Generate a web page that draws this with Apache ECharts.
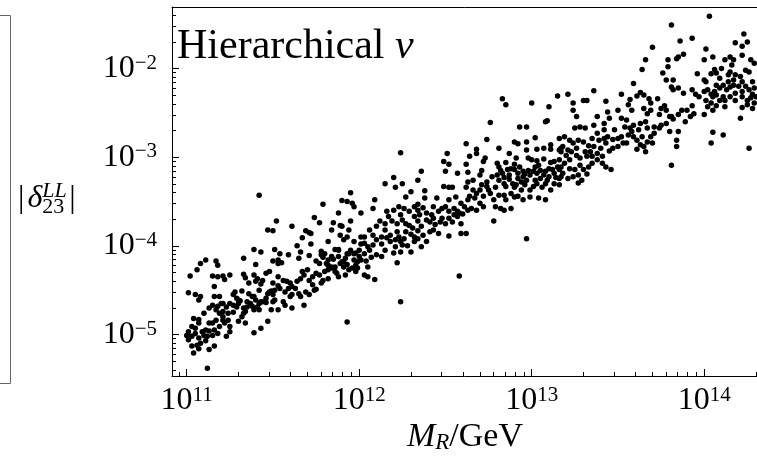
<!DOCTYPE html>
<html>
<head>
<meta charset="utf-8">
<script src="https://cdn.jsdelivr.net/npm/echarts@6/dist/echarts.min.js"></script>
<style>html,body{margin:0;padding:0;background:#fff}#chart{width:757px;height:456px}</style>
</head>
<body>
<div id="chart"></div>
<script>
// Axis tick exponents (labels are 10^n)
const xTickExps = [11, 12, 13, 14];
const yTickExps = [-5, -4, -3, -2];

// Data points: [log10(M_R / GeV), log10(|delta_23^LL|)]
const ptsMR1e11 = [
[11.42,-3.43],[11.95,-3.40],[11.90,-3.49],[11.93,-3.50],[11.96,-3.52],[11.97,-3.56],[11.79,-3.53],[11.88,-3.63],[12.01,-3.63],[11.74,-3.68],[11.77,-3.74],[11.52,-3.72],[11.47,-3.82],[11.50,-3.83],[11.61,-3.78],[11.85,-3.74],[11.89,-3.77],[11.90,-3.78],[11.95,-3.72],[11.84,-3.82],[11.89,-3.88],[11.94,-3.82],[11.69,-3.83],[11.71,-3.85],[11.67,-3.91],[11.72,-3.86],[11.91,-3.93],[11.93,-3.90],[11.97,-3.95],[12.01,-3.90],[12.03,-3.90],[11.64,-4.00],[11.66,-4.07],[11.72,-3.98],[11.82,-3.95],[11.86,-4.04],[11.88,-4.04],[12.01,-3.98],[12.03,-3.97],[12.00,-4.05],[11.39,-4.04],[11.43,-4.07],[11.51,-4.04],[11.54,-4.09],[11.59,-4.10],[11.78,-4.06],[11.78,-4.10],[11.79,-4.13],[11.84,-4.12],[11.85,-4.15],[11.93,-4.09],[11.94,-4.09],[11.97,-4.09],[11.98,-4.08],[11.88,-4.12],[11.90,-4.18],[11.91,-4.18],[11.71,-4.11],[11.65,-4.14],[11.75,-4.17],[11.77,-4.20],[11.11,-4.16],[11.08,-4.20],[11.17,-4.17],[11.18,-4.22],[11.33,-4.14],[11.40,-4.21],[11.50,-4.17],[11.53,-4.20],[11.55,-4.19],[11.53,-4.16],[11.81,-4.20],[11.82,-4.22],[11.84,-4.24],[11.86,-4.24],[11.84,-4.25],[11.89,-4.20],[11.91,-4.24],[11.93,-4.21],[11.97,-4.16],[11.98,-4.22],[11.99,-4.18],[12.01,-4.16],[12.04,-4.17],[11.96,-4.25],[11.99,-4.25],
[11.02,-4.34],[11.06,-4.27],[11.15,-4.34],[11.18,-4.35],[11.21,-4.34],[11.22,-4.38],[11.25,-4.33],[11.33,-4.32],[11.34,-4.36],[11.39,-4.33],[11.41,-4.37],[11.40,-4.40],[11.43,-4.43],[11.44,-4.39],[11.46,-4.31],[11.48,-4.29],[11.16,-4.46],[11.01,-4.53],[11.05,-4.55],[11.08,-4.57],[11.07,-4.61],[11.16,-4.57],[11.19,-4.57],[11.28,-4.52],[11.32,-4.51],[11.27,-4.55],[11.29,-4.59],[11.31,-4.62],[11.36,-4.54],[11.38,-4.57],[11.39,-4.57],[11.35,-4.63],[11.37,-4.65],[11.43,-4.63],[11.46,-4.59],[11.47,-4.54],[11.49,-4.51],[11.50,-4.55],[11.51,-4.50],[11.53,-4.45],[11.54,-4.48],[11.56,-4.39],[11.58,-4.40],[11.60,-4.42],[11.59,-4.48],[11.61,-4.46],[11.63,-4.48],[11.66,-4.37],[11.68,-4.33],[11.67,-4.29],[11.70,-4.27],[11.71,-4.39],[11.73,-4.35],[11.75,-4.31],[11.77,-4.33],[11.79,-4.39],[11.80,-4.29],[11.82,-4.27],[11.86,-4.29],[11.87,-4.31],[11.92,-4.33],[11.94,-4.27],[11.98,-4.29],[12.03,-4.33],[11.50,-4.63],[11.51,-4.61],[11.56,-4.63],[11.57,-4.67],[11.60,-4.57],[11.61,-4.55],[11.66,-4.57],[11.69,-4.52],[11.71,-4.55],[11.74,-4.50],[11.75,-4.49],[11.68,-4.67],[11.61,-4.70],[11.53,-4.72],[11.49,-4.72],[11.13,-4.70],[11.15,-4.67],[11.17,-4.72],[11.18,-4.68],[11.20,-4.65],[11.21,-4.65],[11.21,-4.74],[11.19,-4.76],[11.23,-4.69],[11.25,-4.65],[11.27,-4.67],[11.29,-4.69],[11.27,-4.75],[11.21,-4.80],[11.21,-4.84],[11.24,-4.84],[11.25,-4.91],[11.22,-4.87],[11.33,-4.70],[11.35,-4.69],[11.33,-4.76],[11.32,-4.80],[11.34,-4.74],[11.38,-4.68],[11.39,-4.72],[11.40,-4.61],[11.41,-4.69],[11.42,-4.65],[11.44,-4.63],[11.04,-4.82],[11.07,-4.83],[11.07,-4.87],[11.03,-4.91],[11.05,-4.93],[11.01,-4.97],[11.00,-5.01],[11.02,-5.02],[11.01,-5.06],[11.05,-4.99],[11.07,-5.04],[11.09,-4.97],[11.11,-4.95],[11.13,-4.96],[11.10,-5.01],[11.12,-5.02],[11.15,-5.01],[11.16,-4.95],[11.18,-4.99],[11.15,-4.87],[11.30,-4.85],[11.34,-4.87],[11.39,-4.98],[11.43,-4.93],[11.47,-4.85],[11.23,-5.02],[11.25,-4.97],[11.03,-5.13],[11.06,-5.12],[11.07,-5.16],[11.11,-5.07],[11.13,-5.17],[11.16,-5.13],[11.04,-5.21],[11.12,-5.38],[11.93,-4.86],[11.30,-4.61],[11.48,-4.52],[11.46,-4.64],
[11.53,-4.35],[11.57,-4.52],[11.64,-4.40],[11.65,-4.54],[11.73,-4.44],[11.78,-4.42],[11.82,-4.37],[11.88,-4.35],[11.36,-4.42],[11.42,-4.50],[11.30,-4.65],[11.24,-4.76],[11.17,-4.84],[11.42,-4.72],[11.50,-4.42],[11.10,-4.76],[11.13,-4.87],[11.19,-4.91],[11.03,-5.02],[11.08,-5.10],
[11.80,-4.09],[11.82,-4.16],[11.88,-4.05],[11.92,-4.14],[11.95,-4.05],[12.00,-4.12],[12.03,-4.09],[12.05,-4.24]
];
const ptsMR1e12 = [
[12.83,-2.34],[12.85,-2.41],[13.00,-2.39],[13.10,-2.43],[13.15,-2.31],[12.76,-2.61],[12.93,-2.66],[12.97,-2.66],[13.08,-2.60],[13.09,-2.59],[12.24,-2.95],[12.62,-2.85],[12.74,-2.80],[12.90,-2.83],[12.92,-2.85],[12.97,-2.83],[13.02,-2.78],[13.11,-2.86],[13.11,-2.91],[13.17,-2.90],[13.17,-2.94],[12.81,-2.90],[12.87,-2.96],[12.97,-2.92],[13.03,-2.91],[13.07,-2.90],[12.51,-2.96],[12.49,-3.05],[12.52,-3.08],[12.64,-2.99],[12.68,-2.96],[12.68,-2.91],[12.73,-3.01],[12.72,-3.05],[12.85,-3.06],[12.91,-3.01],[12.90,-3.08],[12.98,-3.01],[13.00,-3.03],[13.03,-3.04],[13.07,-3.02],[13.11,-3.06],[13.13,-3.05],[13.15,-3.11],[13.16,-3.03],[12.36,-3.16],[12.50,-3.16],[12.57,-3.18],[12.62,-3.08],[12.63,-3.17],[12.71,-3.15],[12.70,-3.20],[12.81,-3.11],[12.82,-3.15],[12.84,-3.23],[12.80,-3.20],[12.88,-3.13],[12.95,-3.16],[12.96,-3.19],[12.98,-3.15],[13.02,-3.11],[13.04,-3.09],[13.05,-3.15],[13.08,-3.16],[13.10,-3.13],[13.13,-3.18],[13.17,-3.11],[12.15,-3.30],[12.20,-3.23],[12.25,-3.30],[12.21,-3.34],[12.34,-3.26],[12.38,-3.38],[12.30,-3.39],[12.49,-3.33],[12.52,-3.34],[12.54,-3.34],[12.62,-3.34],[12.63,-3.28],[12.66,-3.26],[12.71,-3.31],[12.70,-3.37],[12.74,-3.33],[12.75,-3.37],[12.79,-3.34],[12.84,-3.30],[12.87,-3.25],[12.89,-3.30],[12.90,-3.34],[12.92,-3.24],[12.94,-3.28],[12.96,-3.31],[12.97,-3.26],[13.02,-3.26],[13.05,-3.24],[13.03,-3.30],[13.06,-3.34],[12.99,-3.37],[13.10,-3.22],[13.13,-3.30],[13.16,-3.24],[12.09,-3.48],[12.27,-3.45],[12.34,-3.53],[12.38,-3.46],[12.45,-3.46],[12.52,-3.48],[12.56,-3.45],[12.59,-3.52],[12.64,-3.44],[12.67,-3.46],[12.68,-3.41],[12.72,-3.44],[12.70,-3.52],[12.76,-3.41],[12.78,-3.48],[12.81,-3.43],[12.84,-3.43],[12.85,-3.48],[12.88,-3.41],[12.90,-3.45],[12.92,-3.44],[13.04,-3.46],[13.08,-3.48],
[12.80,-3.07],[12.83,-3.18],[12.86,-3.14],[12.87,-3.20],[12.90,-3.14],[12.92,-3.18],[12.93,-3.11],[12.95,-3.22],[12.99,-3.20],[13.01,-3.16],[13.03,-3.18],[13.07,-3.20],[13.09,-3.26],[13.12,-3.14],[13.14,-3.23],[13.16,-3.31],[13.18,-3.18],[12.81,-3.26],[12.85,-3.33],[12.91,-3.31],[12.94,-3.37],[13.01,-3.33],[13.08,-3.30],[13.11,-3.37],[12.95,-3.48],[12.99,-3.45],[12.74,-3.28],[12.77,-3.22],[12.66,-3.37],[12.63,-3.48],
[12.08,-3.58],[12.20,-3.60],[12.23,-3.56],[12.29,-3.61],[12.32,-3.56],[12.35,-3.65],[12.39,-3.63],[12.42,-3.65],[12.46,-3.61],[12.43,-3.56],[12.48,-3.58],[12.50,-3.56],[12.55,-3.58],[12.57,-3.61],[12.60,-3.64],[12.63,-3.60],[12.65,-3.58],[12.68,-3.60],[12.72,-3.56],[12.79,-3.56],[12.82,-3.58],[12.84,-3.60],[12.88,-3.58],[12.12,-3.72],[12.15,-3.75],[12.19,-3.72],[12.24,-3.65],[12.25,-3.71],[12.27,-3.75],[12.29,-3.77],[12.31,-3.80],[12.34,-3.72],[12.36,-3.78],[12.39,-3.71],[12.41,-3.73],[12.44,-3.76],[12.47,-3.73],[12.48,-3.69],[12.52,-3.69],[12.54,-3.73],[12.57,-3.67],[12.58,-3.63],[12.59,-3.75],[12.78,-3.72],[12.06,-3.82],[12.08,-3.88],[12.10,-3.93],[12.13,-3.90],[12.13,-3.98],[12.15,-3.82],[12.18,-3.88],[12.18,-3.95],[12.22,-3.84],[12.23,-3.90],[12.24,-3.95],[12.26,-3.92],[12.28,-4.00],[12.30,-3.87],[12.32,-3.90],[12.34,-3.92],[12.36,-4.01],[12.39,-3.95],[12.41,-3.84],[12.34,-3.83],[12.21,-4.01],[12.25,-3.99],[12.05,-4.01],[12.06,-4.05],[12.10,-4.10],[12.13,-4.12],[12.07,-4.13],[12.20,-4.08],[12.22,-4.19],[12.52,-3.89],[12.59,-3.86],[12.62,-3.86],[12.97,-3.92],[12.05,-4.35],[12.09,-4.38],[12.58,-4.34],[12.24,-4.63],
[12.16,-3.61],[12.26,-3.58],[12.34,-3.60],[12.37,-3.57],[12.52,-3.61],[12.61,-3.56],[12.17,-3.67],[12.22,-3.75],[12.32,-3.67],[12.43,-3.69],[12.50,-3.75],[12.55,-3.65],[12.10,-3.78],[12.16,-3.91],[12.21,-3.93],[12.27,-3.84],[12.32,-3.95],[12.37,-3.88],[12.43,-3.82],[12.46,-3.86],[12.08,-3.99],[12.15,-4.05],[12.30,-4.07],[12.24,-4.07]
];
const ptsMR1e13 = [
[14.03,-1.41],[13.81,-1.51],[14.23,-1.61],[14.18,-1.71],[14.25,-1.70],[14.22,-1.75],[13.86,-1.69],[13.93,-1.66],[13.70,-1.76],[14.01,-1.78],[13.66,-1.90],[13.64,-2.01],[13.79,-1.90],[13.85,-1.87],[13.88,-1.84],[13.84,-1.89],[14.05,-1.87],[14.00,-1.90],[14.12,-1.90],[14.15,-1.87],[14.17,-1.90],[14.16,-1.96],[14.22,-1.85],[14.27,-1.90],[14.29,-1.94],[13.79,-1.98],[13.76,-2.05],[13.78,-2.13],[13.82,-2.13],[13.81,-2.21],[13.85,-2.22],[13.82,-2.24],[13.96,-2.06],[14.00,-2.13],[14.01,-2.15],[14.04,-2.06],[14.06,-2.01],[14.07,-2.05],[14.10,-2.00],[14.09,-2.11],[14.15,-2.04],[14.14,-2.07],[14.18,-2.07],[14.17,-2.13],[14.21,-2.09],[14.24,-2.02],[14.26,-2.04],[14.22,-2.15],[14.28,-2.15],[13.59,-2.17],[13.21,-2.29],[13.24,-2.39],[13.30,-2.36],[13.32,-2.36],[13.36,-2.25],[13.43,-2.37],[13.52,-2.29],[13.63,-2.27],[13.61,-2.31],[13.65,-2.30],[13.68,-2.34],[13.69,-2.39],[13.73,-2.34],[13.88,-2.28],[13.93,-2.24],[13.95,-2.29],[13.97,-2.32],[14.00,-2.26],[14.02,-2.24],[14.04,-2.29],[14.06,-2.26],[14.07,-2.30],[14.09,-2.22],[14.11,-2.19],[14.13,-2.24],[14.15,-2.21],[14.17,-2.19],[14.20,-2.20],[14.24,-2.20],[14.26,-2.24],[14.28,-2.29],[14.30,-2.32],[14.27,-2.33],[14.22,-2.32],[14.15,-2.32],[14.11,-2.32],[13.26,-2.54],[13.24,-2.47],[13.57,-2.35],[13.56,-2.41],[13.58,-2.47],[13.65,-2.45],[13.67,-2.51],[13.69,-2.47],[13.75,-2.45],[13.77,-2.42],[13.78,-2.47],[13.81,-2.54],[13.82,-2.57],[13.85,-2.52],[13.87,-2.47],[13.90,-2.47],[13.93,-2.42],[13.94,-2.51],[13.92,-2.54],[13.89,-2.60],[14.00,-2.52],[14.02,-2.43],[14.04,-2.39],[14.07,-2.42],[14.09,-2.36],[14.12,-2.43],[14.05,-2.47],[14.22,-2.44],[14.25,-2.41],[14.28,-2.45],[14.29,-2.39],[14.21,-2.56],[13.44,-2.49],[13.50,-2.47],[13.52,-2.56],[13.55,-2.58],[13.38,-2.54],[13.36,-2.64],[13.42,-2.62],[13.45,-2.56],[13.28,-2.66],[13.25,-2.67],[13.31,-2.67],[13.42,-2.69],[13.63,-2.62],[13.66,-2.60],[13.67,-2.67],[13.59,-2.64],[13.57,-2.67],[13.74,-2.67],[13.75,-2.64],[13.80,-2.71],[13.85,-2.71],[13.84,-2.81],[13.84,-2.88],[14.05,-2.72],[14.11,-2.75],[14.04,-2.84],[13.16,-2.79],[13.19,-2.77],[13.22,-2.81],[13.24,-2.84],[13.27,-2.81],[13.30,-2.83],[13.33,-2.87],[13.36,-2.88],[13.39,-2.81],[13.42,-2.79],[13.44,-2.77],[13.47,-2.80],[13.50,-2.79],[13.53,-2.84],[13.50,-2.88],[13.47,-2.90],[13.45,-2.93],[13.56,-2.75],[13.58,-2.71],[13.61,-2.81],[13.64,-2.77],[13.67,-2.83],[13.70,-2.84],[13.65,-2.88],[13.61,-2.91],[13.66,-2.94],[13.16,-2.92],[13.20,-2.98],[13.23,-2.94],[13.26,-2.98],[13.28,-3.01],[13.31,-2.94],[13.32,-2.99],[13.35,-2.99],[13.38,-2.96],[13.41,-2.99],[13.38,-3.03],[13.35,-3.07],[13.41,-3.07],[13.43,-3.11],[13.46,-3.14],[13.19,-3.07],[13.22,-3.13],[13.16,-3.14],[13.21,-3.24],[13.17,-3.22],[13.24,-3.22],[13.27,-3.20],[13.30,-3.14],[13.29,-3.26],[13.27,-3.29],[13.32,-3.19],[14.26,-2.90],[13.81,-3.09],
[13.18,-2.88],[13.21,-2.92],[13.26,-2.90],[13.34,-2.94],[13.40,-2.90],[13.43,-2.84],[13.52,-2.77],[13.55,-2.84],[13.59,-2.77],[13.63,-2.86],[13.69,-2.77],[13.71,-2.73],[13.22,-3.03],[13.28,-3.09],[13.33,-3.11],[13.25,-3.14],[13.38,-2.73],[13.35,-2.79],[13.48,-2.69],[13.54,-2.66],[13.62,-2.69],[13.71,-2.66],[13.78,-2.62],[13.80,-2.54],[13.74,-2.52],[14.05,-2.32],[14.12,-2.36],[14.18,-2.28],[14.22,-2.26],[14.25,-2.36],[14.29,-2.22],[14.01,-2.36],[14.07,-2.19],[14.14,-2.15],[14.18,-2.36]
];

const X_MIN = 10.9148, X_MAX = 14.335;
const Y_MIN = -5.468, Y_MAX = -1.3064;
const FONT = '"Liberation Serif","Times New Roman",serif';

function minorTicks(lo, hi, from, to) {
  const out = [];
  for (let n = from; n <= to; n++) {
    for (let k = 2; k <= 9; k++) {
      const v = n + Math.log10(k);
      if (v > lo && v < hi) out.push(v);
    }
  }
  return out;
}
const xMinor = minorTicks(X_MIN, X_MAX, 10, 14);
const yMinor = minorTicks(Y_MIN, Y_MAX, -6, -2);

function powLabel(v) {
  const n = Math.round(v);
  return '{b|10}{s|' + (n < 0 ? '\u2212' + (-n) : String(n)) + '}';
}
const tickRich = {
  b: { fontFamily: FONT, fontSize: 32, lineHeight: 32, fontWeight: 'normal', verticalAlign: 'bottom', color: '#000' },
  s: { fontFamily: FONT, fontSize: 21, lineHeight: 21, fontWeight: 'normal', padding: [0, 0, 17, 0], verticalAlign: 'top', color: '#000' }
};
const lineBlack = { color: '#000', width: 1 };
const txt = (o) => Object.assign({ fontFamily: FONT, fontWeight: 'normal', color: '#000' }, o);

const allPts = ptsMR1e11.concat(ptsMR1e12, ptsMR1e13);

const chart = echarts.init(document.getElementById('chart'), null, { renderer: 'canvas' });
chart.setOption({
  animation: false,
  backgroundColor: '#fff',
  title: [
    {
      text: '{a|Hierarchical }{n|ν}', left: 177, top: 26, padding: 0,
      textStyle: { fontWeight: 'normal', rich: {
        a: txt({ fontSize: 42 }),
        n: txt({ fontSize: 42, fontStyle: 'italic' })
      } }
    },
    {
      text: '{b||}{d|δ}{sup|LL}{sub|23}{b||}', left: 15, top: 180, padding: 0,
      textStyle: { fontWeight: 'normal', rich: {
        b: txt({ fontSize: 32, lineHeight: 38, padding: [0, 3, 0, 3] }),
        d: txt({ fontSize: 32, lineHeight: 38, fontStyle: 'italic' }),
        sup: txt({ fontSize: 22, lineHeight: 22, fontStyle: 'italic', verticalAlign: 'top', width: 0 }),
        sub: txt({ fontSize: 22, lineHeight: 22, verticalAlign: 'bottom', padding: [0, 2, 0, 0] })
      } }
    },
    {
      text: '{i|M}{s|R}{r|/GeV}', left: 407, top: 420, padding: 0,
      textStyle: { fontWeight: 'normal', rich: {
        i: txt({ fontSize: 34, lineHeight: 34, fontStyle: 'italic', verticalAlign: 'top' }),
        s: txt({ fontSize: 23, lineHeight: 23, fontStyle: 'italic', padding: [14, 0, 0, 0], verticalAlign: 'bottom' }),
        r: txt({ fontSize: 34, lineHeight: 34, verticalAlign: 'top' })
      } }
    }
  ],
  graphic: [
    { type: 'rect', shape: { x: -20, y: 15.5, width: 30.5, height: 368 }, style: { fill: 'none', stroke: '#666', lineWidth: 1 }, silent: true }
  ],
  grid: { left: 172, top: 7, width: 590, height: 369, containLabel: false, outerBoundsMode: 'none', show: false },
  xAxis: [
    { type: 'value', min: X_MIN, max: X_MAX, position: 'bottom',
      axisLine: { show: true, onZero: false, lineStyle: lineBlack },
      axisTick: { show: true, inside: true, length: 7, customValues: xTickExps, lineStyle: lineBlack },
      axisLabel: { show: true, customValues: xTickExps, margin: 9, formatter: powLabel, rich: tickRich },
      splitLine: { show: false } },
    { type: 'value', min: X_MIN, max: X_MAX, position: 'bottom',
      axisLine: { show: false },
      axisTick: { show: true, inside: true, length: 4, customValues: xMinor, lineStyle: lineBlack },
      axisLabel: { show: false }, splitLine: { show: false } },
    { type: 'value', min: X_MIN, max: X_MAX, position: 'top',
      axisLine: { show: true, onZero: false, lineStyle: lineBlack },
      axisTick: { show: false }, axisLabel: { show: false }, splitLine: { show: false } }
  ],
  yAxis: [
    { type: 'value', min: Y_MIN, max: Y_MAX, position: 'left',
      axisLine: { show: true, onZero: false, lineStyle: lineBlack },
      axisTick: { show: true, inside: true, length: 7, customValues: yTickExps, lineStyle: lineBlack },
      axisLabel: { show: true, customValues: yTickExps, margin: 15, formatter: powLabel, rich: tickRich },
      splitLine: { show: false } },
    { type: 'value', min: Y_MIN, max: Y_MAX, position: 'left',
      axisLine: { show: false },
      axisTick: { show: true, inside: true, length: 4, customValues: yMinor, lineStyle: lineBlack },
      axisLabel: { show: false }, splitLine: { show: false } }
  ],
  series: [{
    type: 'scatter', xAxisIndex: 0, yAxisIndex: 0,
    symbol: 'circle', symbolSize: 5.5,
    itemStyle: { color: '#000', opacity: 1 },
    data: allPts
  }]
});
</script>
</body>
</html>
